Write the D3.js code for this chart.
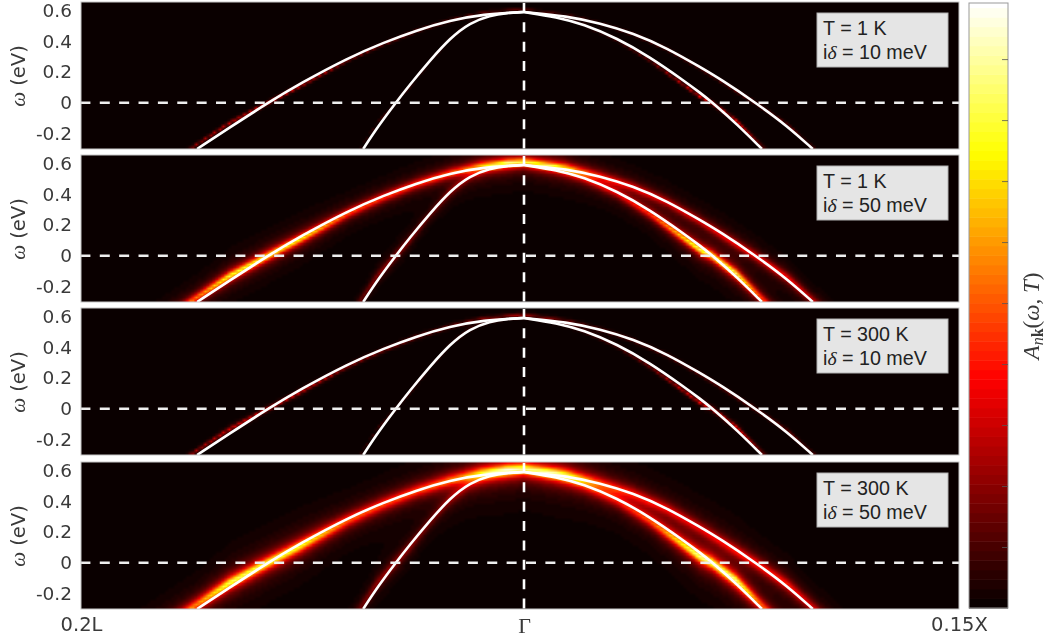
<!DOCTYPE html>
<html>
<head>
<meta charset="utf-8">
<script src="https://cdn.jsdelivr.net/npm/d3@7"></script>
<style>
  html, body { margin: 0; padding: 0; background: #fff; }
  #wrap { position: relative; width: 1047px; height: 642px; overflow: hidden; }
  canvas, svg { position: absolute; left: 0; top: 0; }
  text { font-family: "DejaVu Sans", sans-serif; fill: #3a3a3a; }
</style>
</head>
<body>
<div id="wrap">
  <canvas id="heat" width="1047" height="642"></canvas>
  <svg id="chart" width="1047" height="642"></svg>
</div>
<script>
// bands: k is -1 (0.2L) .. 0 (Gamma) .. 1 (0.15X), w in eV
const outerLeftK = [-0.738, -0.664, -0.578, -0.506, -0.395, -0.318, -0.242, -0.167, -0.093, 0]
const outerLeftW = [-0.3, -0.16, 0, 0.125, 0.295, 0.39, 0.472, 0.535, 0.576, 0.59]
const innerLeftK = [-0.363, -0.33, -0.291, -0.257, -0.212, -0.167, -0.122, -0.077, -0.038, 0]
const innerLeftW = [-0.3, -0.155, -0.005, 0.12, 0.276, 0.42, 0.52, 0.568, 0.585, 0.59]
const outerRightK = [0, 0.099, 0.175, 0.251, 0.329, 0.405, 0.451, 0.533, 0.605, 0.664]
const outerRightW = [0.59, 0.563, 0.517, 0.452, 0.355, 0.232, 0.155, 0, -0.15, -0.3]
const innerRightK = [0, 0.076, 0.136, 0.214, 0.29, 0.366, 0.405, 0.434, 0.49, 0.547]
const innerRightW = [0.59, 0.557, 0.511, 0.42, 0.297, 0.147, 0.065, 0, -0.14, -0.3]

// where the spectral weight sits relative to the band, and how bright it looks along it
const outerLeftShift = [0.03, 0.03, 0, -0.018, -0.015, -0.01, -0.005, 0, 0.01, 0.02]
const outerLeftEf = [0.55, 0.8, 0.8, 0.75, 0.5, 0.42, 0.35, 0.28, 0.15, 0]
const outerLeftTop = [0, 0, 0, 0, 0, 0.05, 0.12, 0.25, 0.42, 0.45]
const innerLeftShift = [0.03, 0.025, 0, -0.015, -0.01, -0.005, 0, 0.005, 0.015, 0.02]
const innerLeftEf = [0.15, 0.2, 0.22, 0.2, 0.15, 0.15, 0.1, 0.1, 0.05, 0]
const innerLeftTop = [0, 0, 0, 0, 0, 0.05, 0.12, 0.22, 0.36, 0.35]
const outerRightShift = [0.02, 0.01, 0, -0.005, -0.005, -0.005, -0.01, 0, 0.012, 0.015]
const outerRightEf = [0, 0.08, 0.15, 0.25, 0.3, 0.32, 0.35, 0.4, 0.4, 0.3]
const outerRightTop = [0.45, 0.42, 0.25, 0.12, 0.05, 0, 0, 0, 0, 0]
const innerRightShift = [0.02, 0.012, 0, -0.01, -0.02, -0.025, -0.022, 0, 0.022, 0.025]
const innerRightEf = [0, 0.05, 0.12, 0.22, 0.4, 0.7, 0.85, 0.85, 0.85, 0.5]
const innerRightTop = [0.35, 0.36, 0.22, 0.12, 0.05, 0, 0, 0, 0, 0]

// one entry per panel
const panelTemp = ["T = 1 K", "T = 1 K", "T = 300 K", "T = 300 K"]
const panelDelta = [" = 10 meV", " = 50 meV", " = 10 meV", " = 50 meV"]
const panelTops = [2, 155, 308, 462]
const panelGamma = [0.006, 0.026, 0.008, 0.036]
const panelEfGain = [0.45, 1, 0.45, 1.05]
const panelTopGain = [0.12, 1, 0.25, 1.1]

const yTicks = [-0.2, 0, 0.2, 0.4, 0.6]
const xTicks = [-1, 0, 1]
const xTickLabels = ["0.2L", "Γ", "0.15X"]
const colorbarTicks = [0.1, 0.2, 0.3, 0.4, 0.5, 0.6, 0.7, 0.8, 0.9]
const hotStops = [0, 0.375, 0.75, 1]
const hotColors = ["#0a0000", "#ff0000", "#ffff00", "#ffffff"]

const bands = [
  {k: outerLeftK, w: outerLeftW, shift: outerLeftShift, ef: outerLeftEf, top: outerLeftTop, side: -1},
  {k: innerLeftK, w: innerLeftW, shift: innerLeftShift, ef: innerLeftEf, top: innerLeftTop, side: -1},
  {k: outerRightK, w: outerRightW, shift: outerRightShift, ef: outerRightEf, top: outerRightTop, side: 1},
  {k: innerRightK, w: innerRightW, shift: innerRightShift, ef: innerRightEf, top: innerRightTop, side: 1},
]

const left = 81, right = 959, panelH = 147
const x = d3.scaleLinear().domain([-1, 0, 1]).range([left, 524, right])
const hot = d3.scaleLinear().domain(hotStops).range(hotColors).clamp(true)
const hotStep = v => hot(Math.min(Math.floor(v * 64), 63) / 63)

const svg = d3.select("#chart")
const ctx = document.getElementById("heat").getContext("2d")

bands.forEach(b => {
  b.center = d3.scaleLinear().domain(b.k).range(b.w.map((w, i) => w + b.shift[i]))
  b.efAt = d3.scaleLinear().domain(b.k).range(b.ef).clamp(true)
  b.topAt = d3.scaleLinear().domain(b.k).range(b.top).clamp(true)
})

function drawHeat(i, y) {
  const top = panelTops[i]
  const cell = 3
  const cols = Math.ceil((right - left) / cell), rows = Math.ceil(panelH / cell)
  const off = document.createElement("canvas")
  off.width = cols
  off.height = rows
  const offCtx = off.getContext("2d")
  for (let c = 0; c < cols; c++) {
    const k = x.invert(left + (c + 0.5) * cell)
    for (let r = 0; r < rows; r++) {
      const w = y.invert(top + (r + 0.5) * cell)
      let v = 0
      bands.forEach(b => {
        if (k * b.side < 0) return
        const amp = panelEfGain[i] * b.efAt(k) + panelTopGain[i] * b.topAt(k)
        const d = (w - b.center(k)) / panelGamma[i]
        v += amp / (1 + d * d)
      })
      offCtx.fillStyle = hotStep(Math.min(v, 1))
      offCtx.fillRect(c, r, 1, 1)
    }
  }
  ctx.imageSmoothingEnabled = true
  ctx.drawImage(off, left, top, right - left, panelH)
}

panelTops.forEach((top, i) => {
  const y = d3.scaleLinear().domain([-0.3, 0.655]).range([top + panelH, top])
  drawHeat(i, y)

  const g = svg.append("g")
  const clipId = "clip" + i
  g.append("clipPath").attr("id", clipId).append("rect")
    .attr("x", left).attr("y", top).attr("width", right - left).attr("height", panelH)

  const line = d3.line().x(d => x(d[0])).y(d => y(d[1])).curve(d3.curveBasis)
  const plot = g.append("g").attr("clip-path", "url(#" + clipId + ")")
  bands.forEach(b => {
    plot.append("path")
      .attr("d", line(b.k.map((k, j) => [k, b.w[j]])))
      .attr("fill", "none").attr("stroke", "#fff").attr("stroke-width", 2.6)
  })
  plot.append("line")
    .attr("x1", left - 0.6).attr("x2", right).attr("y1", y(0)).attr("y2", y(0))
    .attr("stroke", "#eee").attr("stroke-width", 2.6).attr("stroke-dasharray", "10 9.374")
  plot.append("line")
    .attr("x1", x(0)).attr("x2", x(0)).attr("y1", top + 1).attr("y2", top + panelH)
    .attr("stroke", "#fff").attr("stroke-width", 2.6).attr("stroke-dasharray", "10 9.374")

  g.append("rect").attr("x", left).attr("y", top).attr("width", right - left).attr("height", panelH)
    .attr("fill", "none").attr("stroke", "#c8c8c8").attr("stroke-width", 1)

  const axis = d3.axisLeft(y).tickValues(yTicks).tickSize(0).tickPadding(9)
    .tickFormat(d => d === 0 ? "0" : d3.format(".1f")(d).replace("−", "-"))
  const ag = g.append("g").attr("transform", "translate(" + left + ",0)").call(axis)
  ag.select(".domain").remove()
  ag.selectAll("text").style("font-size", "18.5px").style("font-family", "DejaVu Sans")

  const yl = g.append("text")
    .attr("transform", "translate(25," + (top + 74) + ") rotate(-90)")
    .attr("text-anchor", "middle").style("font-size", "19.5px")
  yl.append("tspan").style("font-family", "Liberation Serif").style("font-style", "italic").style("font-size", "21px").text("ω")
  yl.append("tspan").text(" (eV)")

  // T / delta box
  const box = g.append("g").attr("transform", "translate(817," + (top + 11) + ")")
  box.append("rect").attr("width", 131).attr("height", 54)
    .attr("fill", "#e5e5e5").attr("stroke", "#b0b0b0").attr("stroke-width", 1)
  box.append("text").attr("x", 6).attr("y", 22).style("font-family", "Liberation Sans")
    .style("font-size", "19.7px").style("fill", "#222").text(panelTemp[i])
  const t2 = box.append("text").attr("x", 6).attr("y", 45.5).style("font-family", "Liberation Sans")
    .style("font-size", "19.7px").style("fill", "#222")
  t2.append("tspan").text("i")
  t2.append("tspan").style("font-family", "Liberation Serif").style("font-style", "italic").text("δ")
  t2.append("tspan").text(panelDelta[i])
})

// x labels under the last panel
const xAxis = d3.axisBottom(x).tickValues(xTicks).tickSize(0).tickPadding(8)
  .tickFormat((d, i) => xTickLabels[i])
const xg = svg.append("g").attr("transform", "translate(0,609)").call(xAxis)
xg.select(".domain").remove()
xg.selectAll("text").style("font-size", "19.5px").style("font-family", "DejaVu Sans")
xg.selectAll("text").filter((d, i) => i === 1).style("font-family", "Liberation Serif").style("font-size", "22px")

// colorbar, 64 levels like the map
const cbX = 969, cbW = 39
const cb = d3.scaleLinear().domain([0, 0.992]).range([608, 3])
d3.range(64).forEach(n => {
  const v0 = n / 64, v1 = Math.min((n + 1) / 64, 0.992)
  svg.append("rect").attr("x", cbX).attr("width", cbW)
    .attr("y", cb(v1)).attr("height", cb(v0) - cb(v1) + 0.5)
    .attr("fill", hotStep(v0 + 0.001))
})
svg.append("rect").attr("x", cbX).attr("y", 3).attr("width", cbW).attr("height", 605)
  .attr("fill", "none").attr("stroke", "#999").attr("stroke-width", 1)
const cbAxis = d3.axisRight(cb).tickValues(colorbarTicks).tickSize(-6).tickFormat("")
const cbg = svg.append("g").attr("transform", "translate(" + (cbX + cbW) + ",0)").call(cbAxis)
cbg.select(".domain").remove()
cbg.selectAll("line").attr("stroke", "#555").attr("stroke-width", 0.8)

const cbl = svg.append("text")
  .attr("transform", "translate(1039,316) rotate(-90)").attr("text-anchor", "middle")
  .style("font-family", "Liberation Serif").style("font-size", "23px").style("font-style", "italic")
cbl.append("tspan").text("A")
cbl.append("tspan").attr("dy", 4).style("font-size", "16px").text("n")
cbl.append("tspan").style("font-size", "16px").style("font-style", "normal").style("font-weight", "bold").text("k")
cbl.append("tspan").attr("dy", -4).style("font-style", "normal").text("(")
cbl.append("tspan").text("ω, T")
cbl.append("tspan").style("font-style", "normal").text(")")
</script>
</body>
</html>
